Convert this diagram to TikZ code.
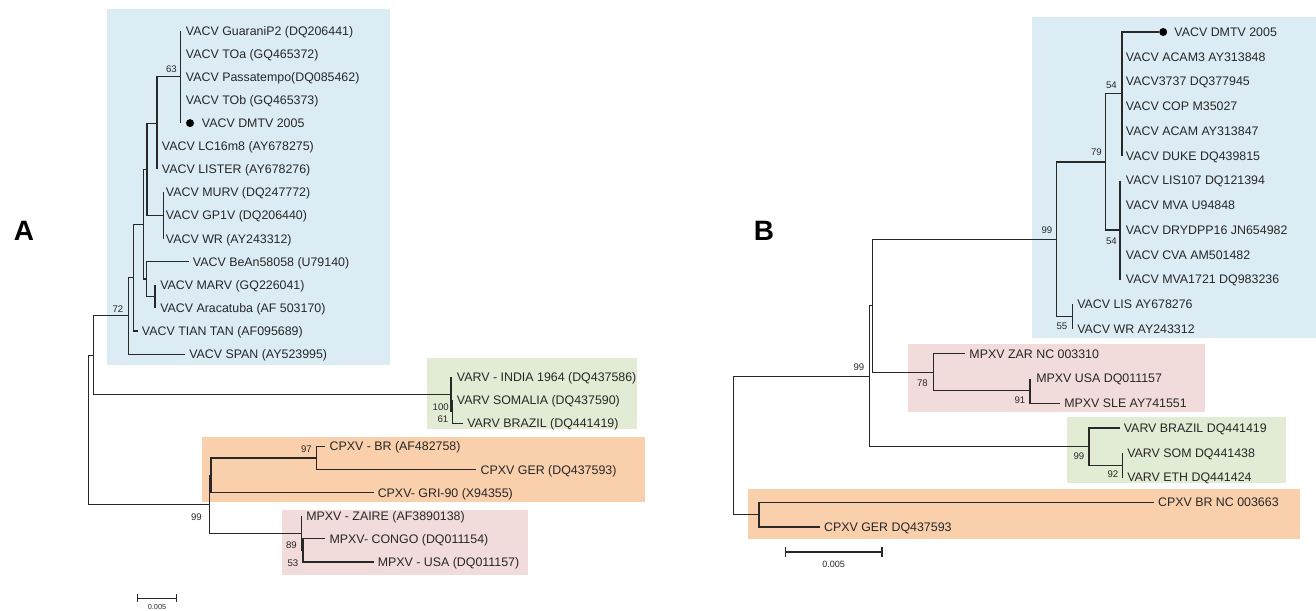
\documentclass[tikz,border=0pt]{standalone}
\usepackage{fontspec}
\setmainfont{Liberation Sans}
\definecolor{bluebox}{RGB}{219,236,244}
\definecolor{greenbox}{RGB}{226,235,211}
\definecolor{orangebox}{RGB}{249,207,172}
\definecolor{pinkbox}{RGB}{242,219,219}
\definecolor{ink}{RGB}{40,40,40}
\begin{document}
\begin{tikzpicture}[x=0.75pt,y=-0.75pt,
  br/.style={draw=ink, line width=0.85pt},
  leaf/.style={anchor=west, inner xsep=3pt, inner ysep=0pt, text height=8.7pt, text depth=2pt, font=\fontsize{9.3}{11}\selectfont, text=ink},
  boot/.style={anchor=east, inner sep=0pt, font=\fontsize{7.2}{8}\selectfont, text=ink},
  dotnode/.style={circle, fill=black, inner sep=0pt, minimum size=6pt},
  panel/.style={inner sep=0pt, font=\fontsize{21}{21}\selectfont\bfseries, text=black}]
\useasboundingbox[fill=white] (0,0) rectangle (1316,610);
% ---------- boxes ----------
\fill[bluebox] (106.7,9.3) rectangle (390,365);
\fill[greenbox] (427,358.3) rectangle (637,429);
\fill[orangebox] (201.8,437) rectangle (645,502);
\fill[pinkbox] (282,510) rectangle (528,575);
\fill[bluebox] (1032,17) rectangle (1316,338);
\fill[pinkbox] (907.5,343.5) rectangle (1205,412);
\fill[greenbox] (1067.4,416.5) rectangle (1285.5,483);
\fill[orangebox] (748,489) rectangle (1300,539);
% ---------- panel labels ----------
\node[panel] (labA) at (24,231) {A};
\node[panel] (labB) at (764,231) {B};
% ================= PANEL A =================
\node[leaf] (a1) at (181.7,30.7) {VACV GuaraniP2 (DQ206441)};
\node[leaf] (a2) at (181.7,53.8) {VACV TOa (GQ465372)};
\node[leaf] (a3) at (181.7,76.9) {VACV Passatempo(DQ085462)};
\node[leaf] (a4) at (181.7,100.0) {VACV TOb (GQ465373)};
\node[dotnode] (dA) at (190,123.1) {};
\node[leaf] (a5) at (197.7,123.1) {VACV DMTV 2005};
\node[leaf] (a6) at (157.7,146.2) {VACV LC16m8 (AY678275)};
\node[leaf] (a7) at (157.7,169.3) {VACV LISTER (AY678276)};
\node[leaf] (a8) at (161.7,192.4) {VACV MURV (DQ247772)};
\node[leaf] (a9) at (161.7,215.5) {VACV GP1V (DQ206440)};
\node[leaf] (a10) at (161.7,238.6) {VACV WR (AY243312)};
\node[leaf] (a11) at (188.7,261.7) {VACV BeAn58058 (U79140)};
\node[leaf] (a12) at (156,284.8) {VACV MARV (GQ226041)};
\node[leaf] (a13) at (156,307.9) {VACV Aracatuba (AF 503170)};
\node[leaf] (a14) at (137.7,331.0) {VACV TIAN TAN (AF095689)};
\node[leaf] (a15) at (185,354.1) {VACV SPAN (AY523995)};
\node[leaf] (a16) at (452.7,377.2) {VARV - INDIA 1964 (DQ437586)};
\node[leaf] (a17) at (452.7,400.3) {VARV SOMALIA (DQ437590)};
\node[leaf] (a18) at (463,423.4) {VARV BRAZIL (DQ441419)};
\node[leaf] (a19) at (325.3,446.5) {CPXV - BR (AF482758)};
\node[leaf] (a20) at (476.4,469.6) {CPXV GER (DQ437593)};
\node[leaf] (a21) at (373.5,492.7) {CPXV- GRI-90 (X94355)};
\node[leaf] (a22) at (302,515.8) {MPXV - ZAIRE (AF3890138)};
\node[leaf] (a23) at (325.3,538.9) {MPXV- CONGO (DQ011154)};
\node[leaf] (a24) at (373.5,562.0) {MPXV - USA (DQ011157)};
\coordinate (n63) at (180.3,76.9);
\coordinate (nL) at (157,123.1);
\coordinate (nM) at (163.3,215.5);
\coordinate (nK) at (147,169.3);
\coordinate (nMA) at (155,296.35);
\coordinate (nB) at (146.7,279.05);
\coordinate (nA2) at (143.3,224.2);
\coordinate (nT) at (133.3,277.6);
\coordinate (nS) at (128.3,315.85);
\coordinate (nQ) at (452.5,411.85);
\coordinate (nP) at (451,394.5);
\coordinate (nVV) at (93.3,355.2);
\coordinate (n97) at (316.7,458.05);
\coordinate (nC) at (211,475.4);
\coordinate (nMP2) at (303,550.45);
\coordinate (nMP1) at (301.7,533.1);
\coordinate (n99) at (209.3,504.25);
\coordinate (rA) at (88.6,429.7);
% zero-length leaves
\draw[br] (a1.west -| n63) -- (n63);
\draw[br] (dA -| n63) -- (n63);
\draw[br] (a7.west -| nL) -- (nL);
\draw[br] (a8.west -| nM) -- (nM);
\draw[br] (a10.west -| nM) -- (nM);
\draw[br] (a12.west -| nMA) -- (nMA);
\draw[br] (a13.west -| nMA) -- (nMA);
\draw[br] (a16.west -| nP) -- (nP);
\draw[br] (a17.west -| nQ) -- (nQ);
\draw[br] (a22.west -| nMP1) -- (nMP1);
% leaves with branch length
\draw[br] (a11.west) -| (nB);
\draw[br] (a14.west) -| (nT);
\draw[br] (a15.west) -| (nS);
\draw[br] (a18.west) -| (nQ);
\draw[br] (a19.west) -| (n97);
\draw[br] (a20.west) -| (n97);
\draw[br] (a21.west) -| (nC);
\draw[br] (a23.west) -| (nMP2);
\draw[br] (a24.west) -| (nMP2);
% internal
\draw[br] (n63) -| (nL);
\draw[br] (nL) -| (nK);
\draw[br] (nM) -| (nK);
\draw[br] (nK) -| (nA2);
\draw[br] (nMA) -| (nB);
\draw[br] (nB) -| (nA2);
\draw[br] (nA2) -| (nT);
\draw[br] (nT) -| (nS);
\draw[br] (nS) -| (nVV);
\draw[br] (nQ) -| (nP);
\draw[br] (nP) -| (nVV);
\draw[br] (nVV) -| (rA);
\draw[br] (n97) -| (nC);
\draw[br] (nC) -| (n99);
\draw[br] (nMP2) -| (nMP1);
\draw[br] (nMP1) -| (n99);
\draw[br] (n99) -| (rA);
% bootstrap A
\node[boot] (bA63) at (177,69.5) {63};
\node[boot] (bA72) at (123.5,309.5) {72};
\node[boot] (bA100) at (449,407.5) {100};
\node[boot] (bA61) at (448.5,419) {61};
\node[boot] (bA97) at (312,449) {97};
\node[boot] (bA99) at (202,517) {99};
\node[boot] (bA89) at (297,545) {89};
\node[boot] (bA53) at (298.5,562.7) {53};
% scale A
\coordinate (sA1) at (137.5,598.3);
\coordinate (sA2) at (176.8,598.3);
\draw[br] (sA1) -- (sA2);
\draw[br] ([yshift=3pt]sA1) -- ([yshift=-3pt]sA1);
\draw[br] ([yshift=3pt]sA2) -- ([yshift=-3pt]sA2);
\node[inner sep=0pt, font=\fontsize{5.5}{6}\selectfont, text=ink] (sAl) at (157,606.5) {0.005};
% ================= PANEL B =================
\node[dotnode] (dB) at (1163.2,32) {};
\node[leaf] (b0) at (1170.2,32) {VACV DMTV 2005};
\node[leaf] (b1) at (1121.7,56.75) {VACV ACAM3 AY313848};
\node[leaf] (b2) at (1121.7,81.5) {VACV3737 DQ377945};
\node[leaf] (b3) at (1121.7,106.25) {VACV COP M35027};
\node[leaf] (b4) at (1121.7,131) {VACV ACAM AY313847};
\node[leaf] (b5) at (1121.7,155.75) {VACV DUKE DQ439815};
\node[leaf] (b6) at (1121.7,180.5) {VACV LIS107 DQ121394};
\node[leaf] (b7) at (1121.7,205.25) {VACV MVA U94848};
\node[leaf] (b8) at (1121.7,230) {VACV DRYDPP16 JN654982};
\node[leaf] (b9) at (1121.7,254.75) {VACV CVA AM501482};
\node[leaf] (b10) at (1121.7,279.5) {VACV MVA1721 DQ983236};
\node[leaf] (b11) at (1073,304.25) {VACV LIS AY678276};
\node[leaf] (b12) at (1073,329) {VACV WR AY243312};
\node[leaf] (b13) at (965.2,353.75) {MPXV ZAR NC 003310};
\node[leaf] (b14) at (1032,378.5) {MPXV USA DQ011157};
\node[leaf] (b15) at (1060,403.25) {MPXV SLE AY741551};
\node[leaf] (b16) at (1119.6,428) {VARV BRAZIL DQ441419};
\node[leaf] (b17) at (1123,452.75) {VARV SOM DQ441438};
\node[leaf] (b18) at (1123,477.5) {VARV ETH DQ441424};
\node[leaf] (b19) at (1153.8,502.25) {CPXV BR NC 003663};
\node[leaf] (b20) at (819.8,527) {CPXV GER DQ437593};
\coordinate (n54u) at (1122,93.875);
\coordinate (n54l) at (1120,230);
\coordinate (n79) at (1105.5,161.94);
\coordinate (n55) at (1072.5,316.625);
\coordinate (nVA) at (1056.7,239.28);
\coordinate (n91) at (1030,390.875);
\coordinate (n78) at (933.8,372.31);
\coordinate (nX) at (872.7,305.8);
\coordinate (n92) at (1122.4,465.125);
\coordinate (nV99) at (1089,446.56);
\coordinate (nY) at (869.3,376.2);
\coordinate (nCP) at (759,514.625);
\coordinate (rB) at (733.4,445.4);
% zero-length
\draw[br] (dB -| n54u) -- (n54u);
\draw[br] (b5.west -| n54u) -- (n54u);
\draw[br] (b6.west -| n54l) -- (n54l);
\draw[br] (b10.west -| n54l) -- (n54l);
\draw[br] (b11.west -| n55) -- (n55);
\draw[br] (b12.west -| n55) -- (n55);
\draw[br] (b14.west -| n91) -- (n91);
\draw[br] (b17.west -| n92) -- (n92);
\draw[br] (b18.west -| n92) -- (n92);
% with length
\draw[br] (dB.west) -| (n54u);
\draw[br] (b13.west) -| (n78);
\draw[br] (b15.west) -| (n91);
\draw[br] (b16.west) -| (nV99);
\draw[br] (b19.west) -| (nCP);
\draw[br] (b20.west) -| (nCP);
% internal
\draw[br] (n54u) -| (n79);
\draw[br] (n54l) -| (n79);
\draw[br] (n79) -| (nVA);
\draw[br] (n55) -| (nVA);
\draw[br] (nVA) -| (nX);
\draw[br] (n91) -| (n78);
\draw[br] (n78) -| (nX);
\draw[br] (nX) -| (nY);
\draw[br] (n92) -| (nV99);
\draw[br] (nV99) -| (nY);
\draw[br] (nY) -| (rB);
\draw[br] (nCP) -| (rB);
% bootstrap B
\node[boot] (bB54a) at (1117,85) {54};
\node[boot] (bB79) at (1102,152.5) {79};
\node[boot] (bB54b) at (1117,241) {54};
\node[boot] (bB99a) at (1052.5,230) {99};
\node[boot] (bB55) at (1067.5,326.7) {55};
\node[boot] (bB99b) at (864.5,367.5) {99};
\node[boot] (bB78) at (928,382.8) {78};
\node[boot] (bB91) at (1025.5,400.3) {91};
\node[boot] (bB99c) at (1084.5,456) {99};
\node[boot] (bB92) at (1118.5,474.3) {92};
% scale B
\coordinate (sB1) at (785.7,552);
\coordinate (sB2) at (882,552);
\draw[br] (sB1) -- (sB2);
\draw[br] ([yshift=3.5pt]sB1) -- ([yshift=-3.5pt]sB1);
\draw[br] ([yshift=3.5pt]sB2) -- ([yshift=-3.5pt]sB2);
\node[inner sep=0pt, font=\fontsize{6.8}{7}\selectfont, text=ink] (sBl) at (833.6,564) {0.005};
\end{tikzpicture}
\end{document}
